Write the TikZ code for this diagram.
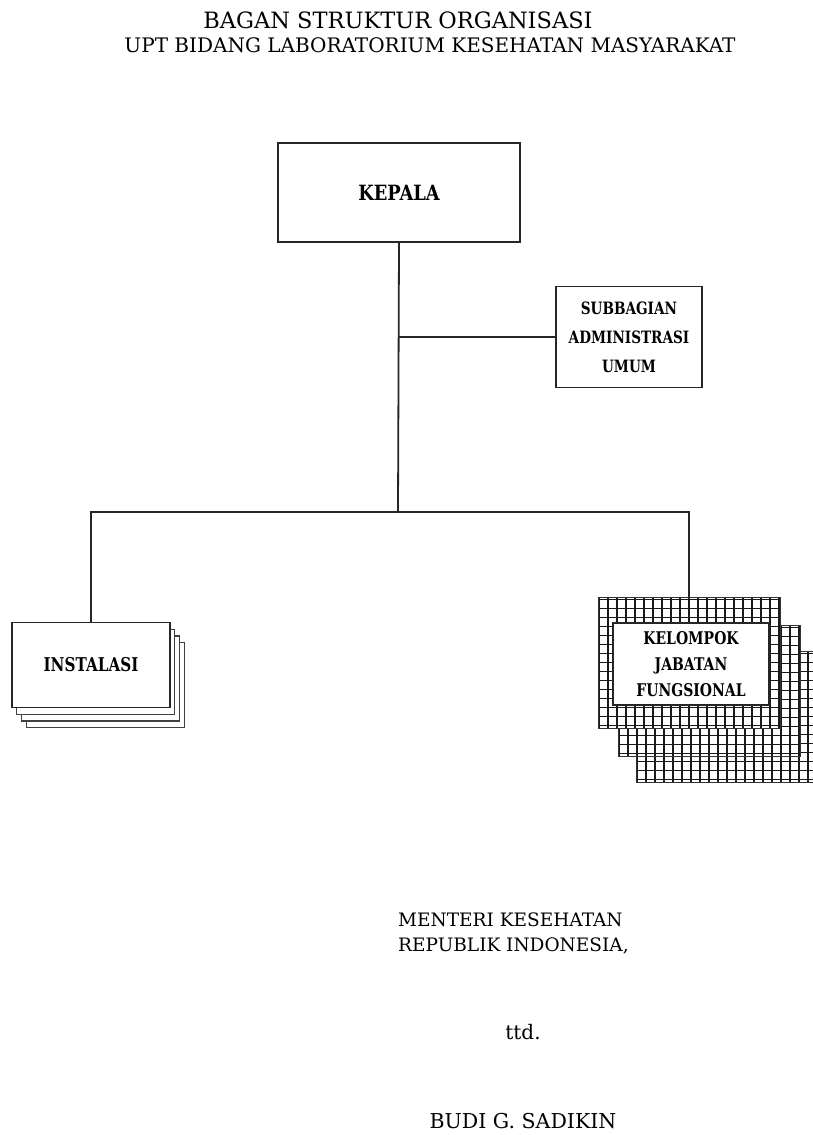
\documentclass[tikz,border=0pt]{standalone}
\usepackage{fontspec}
\setmainfont{DejaVu Serif}
\newfontfamily\boxfont[FakeStretch=0.8]{DejaVu Serif}
\newfontfamily\wideboxfont[FakeStretch=0.85]{DejaVu Serif}
\usetikzlibrary{positioning,calc}

\begin{document}
\begin{tikzpicture}[x=1pt,y=-1pt,
  unit/.style={draw=black!85,line width=1.6pt,fill=white,align=center,inner sep=0pt,
    font=\boxfont\bfseries\fontsize{17}{29}\selectfont},
  sheet/.style={draw=black!75,line width=1.2pt,fill=white,inner sep=0pt,
    minimum width=158pt,minimum height=85pt},
  gridsheet/.style={draw=black!80,line width=1pt,fill=white,inner sep=0pt,
    minimum width=182pt,minimum height=131pt,
    path picture={\draw[black!90,line width=1.5pt] (path picture bounding box.south west)
      grid[step=9pt] (path picture bounding box.north east);}},
  link/.style={draw=black!85,line width=1.8pt},
  plain/.style={inner sep=0pt,font=\fontsize{20}{25}\selectfont}]

  \useasboundingbox (0,0) rectangle (812,1135);

  \node[plain,font=\fontsize{22.5}{25}\selectfont] (title1) at (398,20) {BAGAN STRUKTUR ORGANISASI};
  \node[plain] (title2) at (430,45) {UPT BIDANG LABORATORIUM KESEHATAN MASYARAKAT};

  \node[unit,minimum width=242pt,minimum height=99pt,
    font=\wideboxfont\bfseries\fontsize{21}{25}\selectfont] (kepala) at (399,192.5) {KEPALA};
  \node[unit,minimum width=146pt,minimum height=101pt] (subbag) at (629,337)
    {SUBBAGIAN\\ADMINISTRASI\\UMUM};

  \foreach \k in {3,2,1}
    \node[sheet] (inst\k) at ({91+4.7*\k},{665+6.7*\k}) {};
  \node[unit,line width=1.2pt,minimum width=158pt,minimum height=85pt,
    font=\boxfont\bfseries\fontsize{19}{25}\selectfont] (instalasi) at (91,665) {INSTALASI};

  \node[gridsheet] (jf3) at (727,716.5) {};
  \node[gridsheet] (jf2) at (709,690.5) {};
  \node[gridsheet] (jf1) at (689,662.5) {};
  \node[unit,line width=1.2pt,minimum width=156pt,minimum height=82pt,
    font=\boxfont\bfseries\fontsize{17.5}{26}\selectfont] (jabfung) at (691,664)
    {KELOMPOK\\JABATAN\\FUNGSIONAL};

  \coordinate (split) at (398,512);
  \draw[link] (kepala.south) -- (split);
  \draw[link] (subbag.west) -- (subbag.west -| kepala.south);
  \draw[link] (instalasi.north) |- (split) -| (jf1.north);

  \node[plain,anchor=west,align=left,font=\fontsize{18.5}{25}\selectfont] (menteri) at (398,933)
    {MENTERI KESEHATAN\\REPUBLIK INDONESIA,};
  \node[plain] (ttd) at (523,1032) {ttd.};
  \node[plain,font=\fontsize{20.5}{25}\selectfont] (nama) at (523,1121) {BUDI G. SADIKIN};

\end{tikzpicture}
\end{document}
